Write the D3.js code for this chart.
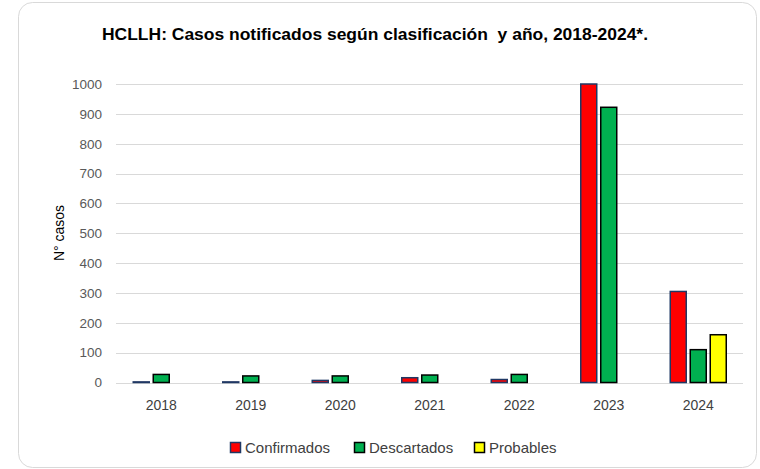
<!DOCTYPE html>
<html><head><meta charset="utf-8">
<script src="https://cdn.jsdelivr.net/npm/d3@7"></script>
<style>body{margin:0;background:#fff}svg{display:block}text{font-family:"Liberation Sans",Arial,sans-serif}</style>
</head><body><div id="chart"></div>
<script>
const years = ["2018","2019","2020","2021","2022","2023","2024"];
const seriesNames = ["Confirmados","Descartados","Probables"];
const confirmados = [2,2,7,16,10,1000,305];
const descartados = [27,22,22,25,27,922,110];
const probables = [0,0,0,0,0,0,160];
const yTicks = [0,100,200,300,400,500,600,700,800,900,1000];
const title = "HCLLH: Casos notificados según clasificación  y año, 2018-2024*.";
const yTitle = "N° casos";

const fills = ["#FF0000","#00B050","#FFFF00"];
const strokes = ["#1F3864","#000000","#000000"];
const seriesVals = [confirmados, descartados, probables];

const W=760,H=469;
const svg=d3.select("#chart").append("svg").attr("width",W).attr("height",H);
svg.append("rect").attr("x",18.5).attr("y",2.5).attr("width",738).attr("height",465)
  .attr("rx",14).attr("fill","#fff").attr("stroke","#d9d9d9").attr("stroke-width",1);

const x=d3.scaleBand().domain(years).range([116.5,743]);
const y=d3.scaleLinear().domain([0,1000]).range([382.5,84]);
const slot=20, bw=16;
const xs=d3.scaleBand().domain(seriesNames).range([0,slot*3]);

// gridlines
svg.append("g").selectAll("line").data(yTicks).join("line")
  .attr("x1",116).attr("x2",743).attr("y1",d=>Math.round(y(d))+0.5).attr("y2",d=>Math.round(y(d))+0.5)
  .attr("stroke","#d9d9d9").attr("stroke-width",1);

const yAxis=svg.append("g").attr("transform","translate(116,0)")
  .call(d3.axisLeft(y).tickValues(yTicks).tickFormat(d3.format("d")).tickSize(0).tickPadding(14));
yAxis.select(".domain").remove();
yAxis.selectAll("text").attr("font-size",13.5).attr("fill","#595959").attr("font-family","Liberation Sans, Arial");

const xAxis=svg.append("g").attr("transform","translate(0,382.5)")
  .call(d3.axisBottom(x).tickSize(0).tickPadding(18));
xAxis.select(".domain").remove();
xAxis.selectAll("text").attr("font-size",14).attr("fill","#404040").attr("font-family","Liberation Sans, Arial");

// bars
seriesNames.forEach((s,i)=>{
  const vals=seriesVals[i];
  svg.append("g").selectAll("rect").data(years.map((yr,j)=>({yr,v:vals[j]})).filter(d=>d.v>0)).join("rect")
    .attr("x",d=>x(d.yr)+x.bandwidth()/2-slot*1.5+xs(s)+2)
    .attr("y",d=>y(d.v))
    .attr("width",bw)
    .attr("height",d=>y(0)-y(d.v))
    .attr("fill",fills[i]).attr("stroke",strokes[i]).attr("stroke-width",1.5);
});

// title
svg.append("text").attr("x",375).attr("y",40).attr("text-anchor","middle")
  .attr("font-size",16).attr("font-weight","bold").attr("fill","#000")
  .attr("xml:space","preserve").attr("textLength",546).attr("lengthAdjust","spacingAndGlyphs")
  .text(title);

// y title
svg.append("text").attr("transform","translate(64,233) rotate(-90)").attr("text-anchor","middle")
  .attr("font-size",14).attr("fill","#000").text(yTitle);

// legend
const legX=[230,354,474];
const leg=svg.append("g");
seriesNames.forEach((s,i)=>{
  leg.append("rect").attr("x",legX[i]+0.5).attr("y",442.5).attr("width",10).attr("height",10)
    .attr("fill",fills[i]).attr("stroke",strokes[i]).attr("stroke-width",1.5);
  leg.append("text").attr("x",legX[i]+15).attr("y",452.5).attr("font-size",15).attr("fill","#404040").text(s);
});
</script></body></html>
